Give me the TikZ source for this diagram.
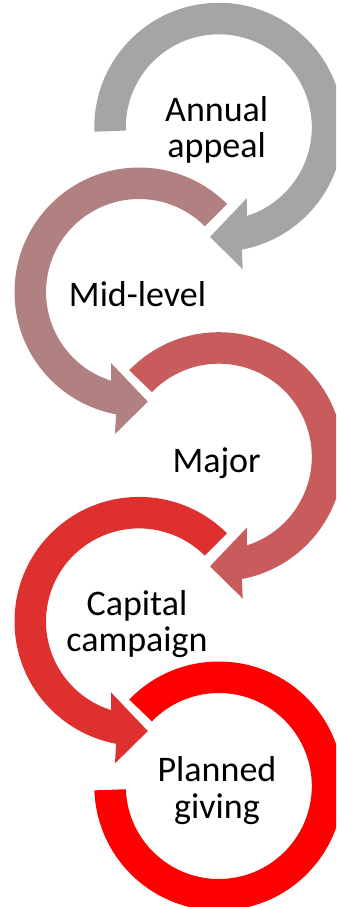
\documentclass[tikz,border=0pt]{standalone}
\usepackage{fontspec}
\setmainfont{Carlito}
\definecolor{ringA}{RGB}{165,165,165}
\definecolor{ringB}{RGB}{177,128,128}
\definecolor{ringC}{RGB}{200,92,92}
\definecolor{ringD}{RGB}{223,48,48}
\definecolor{ringE}{RGB}{255,0,0}
% ring with an arrow head near the bottom, centre at the origin, #1 = start angle
\newcommand\ringarrow[1]{(#1:124.5) arc[start angle=#1,end angle=-79.4,radius=124.5] -- (-80.4:144) -- (-94.6:110) -- (-68.5:76.3) -- (-72.5:93) arc[start angle=-72.5,end angle=#1,radius=93] -- cycle}
\begin{document}
\begin{tikzpicture}[x=.75pt,y=.75pt,ringtext/.style={font=\fontsize{27}{27.3}\selectfont,align=center,anchor=base,inner sep=0pt}]
\useasboundingbox (0,0) rectangle (336,-907);
\clip (0,0) rectangle (336,-907);
\begin{scope}[shift={(218.8,-127.3)}] \fill[ringA] \ringarrow{182}; \end{scope}
\begin{scope}[shift={(139,-292)},xscale=-1] \fill[ringB] \ringarrow{135}; \end{scope}
\begin{scope}[shift={(218.8,-456.7)}] \fill[ringC] \ringarrow{136}; \end{scope}
\begin{scope}[shift={(139,-621.4)},xscale=-1] \fill[ringD] \ringarrow{135}; \end{scope}
\begin{scope}[shift={(218.8,-786)}]
\fill[ringE] (136:124.5) arc[start angle=136,end angle=-178,radius=124.5] -- (-178:93) arc[start angle=-178,end angle=136,radius=93] -- cycle;
\end{scope}
% base = baseline of the last line
\node[ringtext] (annual) at (216.7,-157.5) {Annual\\appeal};
\node[ringtext] (midlevel) at (137.5,-306.7) {Mid-level};
\node[ringtext] (major) at (216.7,-472.3) {Major};
\node[ringtext] (capital) at (137,-651.7) {Capital\\campaign};
\node[ringtext] (planned) at (217,-818) {Planned\\giving};
\end{tikzpicture}
\end{document}
